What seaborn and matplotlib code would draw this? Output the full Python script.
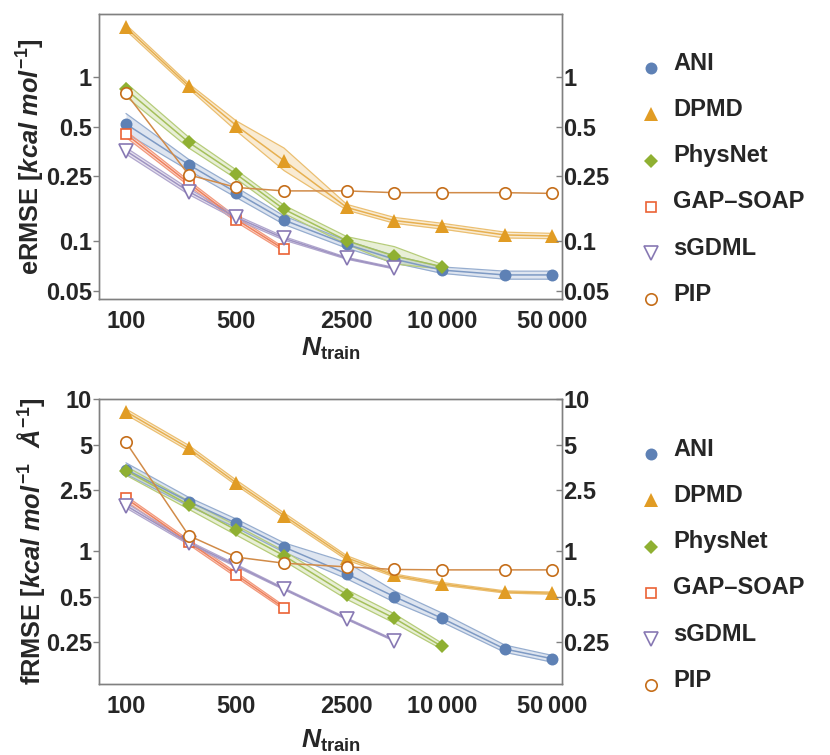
import matplotlib
matplotlib.use("Agg")
import matplotlib.pyplot as plt
import seaborn as sns
import pandas as pd
import numpy as np
from matplotlib.lines import Line2D
from matplotlib.colors import to_rgb
from matplotlib.legend_handler import HandlerLine2D

# ---------------- data ----------------
N_train = [100, 250, 500, 1000, 2500, 5000, 10000, 25000, 50000]
methods = ["ANI", "DPMD", "PhysNet", "GAP\u2013SOAP", "sGDML", "PIP"]

# energy RMSE [kcal/mol]
e_ani = [0.518, 0.293, 0.198, 0.135, 0.096, 0.078, 0.067, 0.0626, 0.0626]
e_ani_lo = [0.455, 0.27, 0.185, 0.127, 0.091, 0.074, 0.064, 0.059, 0.059]
e_ani_hi = [0.60, 0.315, 0.213, 0.143, 0.101, 0.082, 0.070, 0.066, 0.066]
e_dpmd = [2.0, 0.88, 0.506, 0.31, 0.161, 0.134, 0.124, 0.1096, 0.108]
e_dpmd_lo = [1.92, 0.85, 0.47, 0.27, 0.155, 0.129, 0.119, 0.105, 0.104]
e_dpmd_hi = [2.08, 0.91, 0.54, 0.37, 0.168, 0.14, 0.129, 0.114, 0.112]
e_phys = [0.84, 0.40, 0.256, 0.157, 0.101, 0.0816, 0.0703]
e_phys_lo = [0.76, 0.37, 0.24, 0.148, 0.096, 0.073, 0.068]
e_phys_hi = [0.92, 0.43, 0.272, 0.166, 0.107, 0.093, 0.0725]
e_gap = [0.45, 0.226, 0.136, 0.0896]
e_gap_lo = [0.43, 0.218, 0.131, 0.087]
e_gap_hi = [0.47, 0.234, 0.141, 0.092]
e_sgdml = [0.356, 0.201, 0.140, 0.1045, 0.079, 0.0687]
e_sgdml_lo = [0.34, 0.193, 0.136, 0.102, 0.078, 0.068]
e_sgdml_hi = [0.372, 0.209, 0.144, 0.107, 0.080, 0.0695]
e_pip = [0.796, 0.254, 0.213, 0.203, 0.203, 0.198, 0.198, 0.198, 0.196]

# force RMSE [kcal/mol/A]
f_ani = [3.43, 2.11, 1.52, 1.06, 0.706, 0.50, 0.36, 0.226, 0.195]
f_ani_lo = [3.2, 1.97, 1.42, 0.98, 0.655, 0.46, 0.34, 0.215, 0.185]
f_ani_hi = [3.8, 2.25, 1.62, 1.13, 0.84, 0.545, 0.39, 0.24, 0.205]
f_dpmd = [8.25, 4.74, 2.80, 1.71, 0.90, 0.69, 0.607, 0.537, 0.527]
f_dpmd_lo = [7.9, 4.55, 2.70, 1.65, 0.87, 0.675, 0.595, 0.528, 0.518]
f_dpmd_hi = [8.6, 4.95, 2.92, 1.78, 0.93, 0.705, 0.62, 0.546, 0.536]
f_phys = [3.38, 2.01, 1.37, 0.93, 0.516, 0.36, 0.235]
f_phys_lo = [3.15, 1.88, 1.27, 0.86, 0.48, 0.335, 0.225]
f_phys_hi = [3.6, 2.13, 1.47, 1.0, 0.555, 0.385, 0.247]
f_gap = [2.22, 1.14, 0.695, 0.422]
f_gap_lo = [2.12, 1.10, 0.67, 0.41]
f_gap_hi = [2.3, 1.18, 0.72, 0.435]
f_sgdml = [1.99, 1.13, 0.80, 0.562, 0.357, 0.257]
f_sgdml_lo = [1.92, 1.10, 0.785, 0.555, 0.353, 0.254]
f_sgdml_hi = [2.07, 1.16, 0.815, 0.57, 0.362, 0.26]
f_pip = [5.19, 1.26, 0.91, 0.83, 0.785, 0.755, 0.75, 0.75, 0.75]

e_ticks = [0.05, 0.1, 0.25, 0.5, 1]
e_ticklabels = ["0.05", "0.1", "0.25", "0.5", "1"]
f_ticks = [0.25, 0.5, 1, 2.5, 5, 10]
f_ticklabels = ["0.25", "0.5", "1", "2.5", "5", "10"]
x_ticks = [100, 500, 2500, 10000, 50000]
x_ticklabels = ["100", "500", "2500", "10\u2009000", "50\u2009000"]


def make_df(series):
    rows = []
    for m, (v, lo, hi) in series.items():
        for n, a, b, c in zip(N_train, v, lo if lo else v, hi if hi else v):
            rows.append(dict(method=m, N=n, value=a, lo=b, hi=c))
    return pd.DataFrame(rows)


energy = make_df({
    "ANI": (e_ani, e_ani_lo, e_ani_hi),
    "DPMD": (e_dpmd, e_dpmd_lo, e_dpmd_hi),
    "PhysNet": (e_phys, e_phys_lo, e_phys_hi),
    "GAP\u2013SOAP": (e_gap, e_gap_lo, e_gap_hi),
    "sGDML": (e_sgdml, e_sgdml_lo, e_sgdml_hi),
    "PIP": (e_pip, None, None),
})
force = make_df({
    "ANI": (f_ani, f_ani_lo, f_ani_hi),
    "DPMD": (f_dpmd, f_dpmd_lo, f_dpmd_hi),
    "PhysNet": (f_phys, f_phys_lo, f_phys_hi),
    "GAP\u2013SOAP": (f_gap, f_gap_lo, f_gap_hi),
    "sGDML": (f_sgdml, f_sgdml_lo, f_sgdml_hi),
    "PIP": (f_pip, None, None),
})

# ---------------- style ----------------
colors = {"ANI": "#5E81B5", "DPMD": "#E19C24", "PhysNet": "#8FB032",
          "GAP\u2013SOAP": "#EB6235", "sGDML": "#8778B3", "PIP": "#C56E1A"}
marker_style = {
    "ANI": dict(marker="o", ms=8.6, filled=True),
    "DPMD": dict(marker="^", ms=10.0, filled=True),
    "PhysNet": dict(marker="D", ms=7.0, filled=True),
    "GAP\u2013SOAP": dict(marker="s", ms=7.4, filled=False),
    "sGDML": dict(marker="v", ms=9.5, filled=False),
    "PIP": dict(marker="o", ms=8.2, filled=False),
}
has_band = {"ANI": True, "DPMD": True, "PhysNet": True,
            "GAP\u2013SOAP": True, "sGDML": True, "PIP": False}


def lighten(c, f):
    r = np.array(to_rgb(c))
    return tuple(r + (1 - r) * f)


class ShiftedHandler(HandlerLine2D):
    def create_artists(self, legend, orig_handle, xdescent, ydescent, width,
                       height, fontsize, trans):
        arts = super().create_artists(legend, orig_handle, xdescent, ydescent,
                                      width, height, fontsize, trans)
        for a in arts:
            a.set_ydata(np.asarray(a.get_ydata(), dtype=float) - 0.28 * fontsize)
        return arts


sns.set_style("white")
plt.rcParams["font.family"] = ["Liberation Sans", "DejaVu Sans"]
plt.rcParams["font.weight"] = "bold"
plt.rcParams["mathtext.fontset"] = "custom"
plt.rcParams["mathtext.rm"] = "Liberation Sans:bold"
plt.rcParams["mathtext.bf"] = "Liberation Sans:bold"
plt.rcParams["mathtext.it"] = "Liberation Sans:italic:bold"

FS = 17
W, H = 830, 755
fig = plt.figure(figsize=(W / 100, H / 100), dpi=100)

ax_e = fig.add_axes([99 / W, 1 - 299 / H, 463 / W, 285 / H])
ax_f = fig.add_axes([99 / W, 1 - 684 / H, 463 / W, 285 / H])
frame_col = "#808080"
XLIM = (67.5, 57500)


def draw(ax, data, ylim, ticks, ticklabels, ylabel):
    for i, m in enumerate(methods):
        sub = data[data.method == m]
        c = colors[m]
        st = marker_style[m]
        if has_band[m]:
            ax.fill_between(sub.N, sub.lo, sub.hi, color=c, alpha=0.2, lw=0, zorder=1)
            ax.plot(sub.N, sub.lo, color=lighten(c, 0.35), lw=0.9, zorder=2)
            ax.plot(sub.N, sub.hi, color=lighten(c, 0.35), lw=0.9, zorder=2)
        sns.lineplot(data=sub, x="N", y="value", ax=ax, color=lighten(c, 0.2),
                     lw=1.1, marker=st["marker"], ms=st["ms"],
                     mfc=c if st["filled"] else "white", mec=c,
                     mew=0 if st["filled"] else 1.2,
                     errorbar=None, legend=False, zorder=5 + i)
    ax.set_xscale("log")
    ax.set_yscale("log")
    ax.set_xticks(x_ticks)
    ax.set_xticklabels(x_ticklabels)
    ax.set_yticks(ticks)
    ax.set_yticklabels(ticklabels)
    ax.set_xlim(*XLIM)
    ax.set_ylim(*ylim)
    ax.minorticks_off()
    ax.tick_params(axis="both", which="both", direction="out", length=4, width=1,
                   color=frame_col, labelsize=FS, pad=1)
    ax.tick_params(axis="x", pad=4)
    for s in ax.spines.values():
        s.set_color(frame_col)
        s.set_linewidth(1)
    ax.set_xlabel(r"$N_{\mathrm{train}}$", fontsize=19)
    ax.set_ylabel(ylabel, fontsize=18.3, fontweight="bold", va="center")
    ax.yaxis.set_label_coords(-0.147, 0.5)

    ax2 = ax.twinx()
    ax2.set_yscale("log")
    ax2.set_yticks(ticks)
    ax2.set_yticklabels(ticklabels)
    ax2.set_ylim(*ylim)
    ax2.minorticks_off()
    ax2.tick_params(axis="y", which="both", direction="in", length=4, width=1,
                    color=frame_col, labelsize=FS, pad=1)
    for s in ax2.spines.values():
        s.set_color(frame_col)
        s.set_linewidth(1)
    ax2.grid(False)
    ax.grid(False)
    ax.set_xlim(*XLIM)

    handles = []
    for m in methods:
        st = marker_style[m]
        c = colors[m]
        handles.append(Line2D([], [], ls="", marker=st["marker"], ms=st["ms"],
                              mfc=c if st["filled"] else "white", mec=c,
                              mew=0 if st["filled"] else 1.2, label=m))
    return ax2, handles


ax2e, hnd = draw(ax_e, energy, (0.0447, 2.415), e_ticks, e_ticklabels,
                 r"eRMSE [$kcal\ mol^{-1}$]")
ax_e.xaxis.set_label_coords(0.5, -0.13)
ax2f, _ = draw(ax_f, force, (0.133, 10.0), f_ticks, f_ticklabels,
               r"fRMSE [$kcal\ mol^{-1}\ \ Å^{-1}$]")
ax_f.xaxis.set_label_coords(0.5, -0.155)

for axx, ytop in [(ax2e, 52), (ax2f, 438)]:
    axx.legend(handles=hnd, loc="upper left", bbox_to_anchor=(639 / W, 1 - ytop / H),
               bbox_transform=fig.transFigure, frameon=False, fontsize=FS,
               borderaxespad=0, borderpad=0, handlelength=1.0, handletextpad=0.45,
               labelspacing=0.98, handler_map={Line2D: ShiftedHandler()})

fig.savefig("out.png", dpi=100)
